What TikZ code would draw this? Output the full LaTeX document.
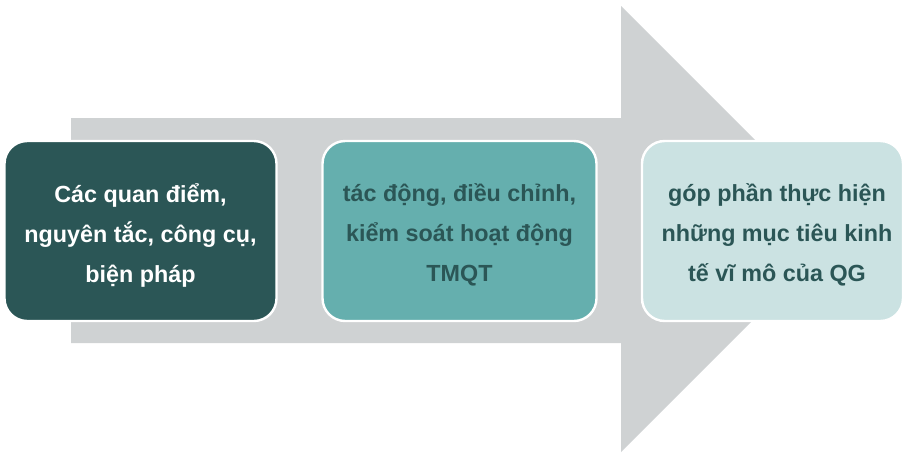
\documentclass[tikz,border=0pt]{standalone}
\usepackage{fontspec}
\setmainfont{Liberation Sans}
\definecolor{arrowgray}{HTML}{CFD2D3}
\definecolor{darkteal}{HTML}{2B5656}
\definecolor{midteal}{HTML}{65AFAE}
\definecolor{lightteal}{HTML}{CBE2E2}
\begin{document}
\begin{tikzpicture}[x=0.75pt,y=-0.75pt,
  stagebox/.style={draw=white, line width=1.8pt, rounded corners=17pt,
    minimum width=272*0.75pt, minimum height=180*0.75pt, inner sep=0pt},
  stagetext/.style={align=center, inner sep=0pt,
    font=\fontsize{17.5pt}{30pt}\selectfont\bfseries},
  ]
\useasboundingbox (0,0) rectangle (904,454);
\fill[arrowgray] (71,118) -- (621,118) -- (621,6) -- (844,229) -- (621,452) -- (621,343) -- (71,343) -- cycle;
\node[stagebox, fill=darkteal] (b1) at (140.5,231) {};
\node[stagebox, fill=midteal, minimum width=274*0.75pt] (b2) at (459.5,231) {};
\node[stagebox, fill=lightteal, minimum width=261*0.75pt] (b3) at (772.5,231) {};
\node[stagetext, text=white] (t1) at (140.5,235) {Các quan điểm,\\nguyên tắc, công cụ,\\biện pháp};
\node[stagetext, text=darkteal] (t2) at (459.5,235) {tác động, điều chỉnh,\\kiểm soát hoạt động\\TMQT};
\node[stagetext, text=darkteal] (t3) at (777,235) {góp phần thực hiện\\những mục tiêu kinh\\tế vĩ mô của QG};
\end{tikzpicture}
\end{document}
